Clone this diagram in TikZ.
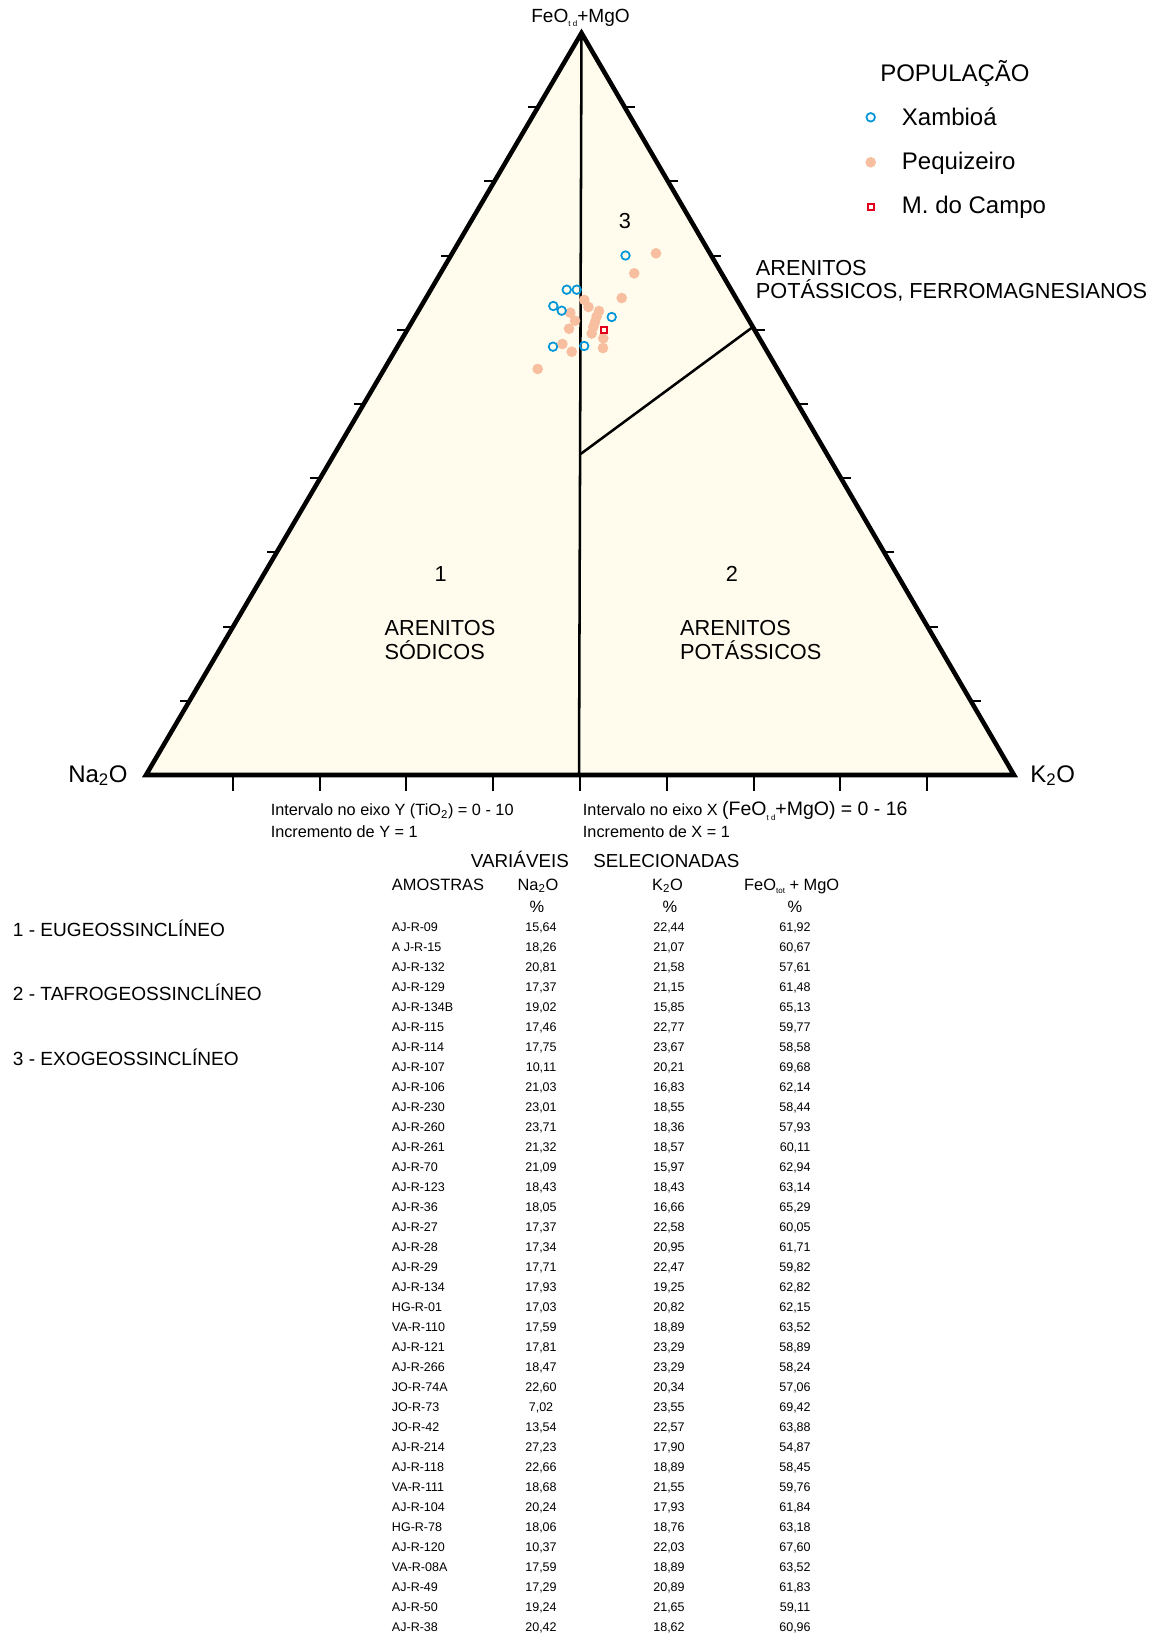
\documentclass[tikz,border=0pt]{standalone}
\usepackage{fontspec}
\setmainfont{Liberation Sans}
\usetikzlibrary{calc}
\definecolor{cream}{RGB}{255,252,237}
\definecolor{xblue}{RGB}{0,150,215}
\definecolor{peach}{RGB}{247,190,160}
\definecolor{mred}{RGB}{226,0,26}
\newcommand{\tsub}[1]{\raisebox{-0.45ex}{\fontsize{6}{6}\selectfont #1}}
\begin{document}
\begin{tikzpicture}[x=0.75pt,y=-0.75pt,
  edgeline/.style={line width=3.4pt, line join=miter},
  divline/.style={line width=1.9pt},
  tickline/.style={line width=1.5pt},
  xamb/.style={circle, draw=xblue, line width=1.3pt, minimum size=6.4pt, inner sep=0pt},
  pequi/.style={circle, fill=peach, minimum size=8pt, inner sep=0pt},
  mcampo/.style={rectangle, draw=mred, line width=1.5pt, minimum size=4.5pt, inner sep=0pt},
  legtxt/.style={font=\fontsize{18}{21}\selectfont, inner sep=0pt, anchor=base west},
  regtxt/.style={font=\fontsize{16.3}{19}\selectfont, inner sep=0pt},
  vertxt/.style={font=\fontsize{18}{21}\selectfont, inner sep=0pt, anchor=base west},
  axtxt/.style={font=\fontsize{12.2}{14}\selectfont, inner sep=0pt, anchor=base west},
  headtxt/.style={font=\fontsize{12.3}{14}\selectfont, inner sep=0pt},
  rowtxt/.style={font=\fontsize{9.4}{11}\selectfont, inner sep=0pt},
  listtxt/.style={font=\fontsize{14.3}{16}\selectfont, inner sep=0pt, anchor=base west}
]
\useasboundingbox[fill=white] (0,0) rectangle (1156,1638);

% triangle geometry
\coordinate (A) at (146,775);
\coordinate (B) at (1014,775);
\coordinate (C) at (581.5,33);
\coordinate (D) at (579,775);
\coordinate (E) at ($(C)!0.3962!(B)$);
\coordinate (F) at (580.6,454);

\fill[cream] (A) -- (B) -- (C) -- cycle;
\draw[divline] (C) -- (D);
\draw[divline] (E) -- (F);
\foreach \k in {1,...,9} {
  \draw[tickline] ($(C)!\k/10!(A)$) -- ++(-10,0);
  \draw[tickline] ($(C)!\k/10!(B)$) -- ++(10,0);
  \draw[tickline] ($(A)!\k/10!(B)$) -- ++(0,16);
}
\draw[edgeline] (A) -- (B) -- (C) -- cycle;

% data points
\foreach \px/\py [count=\i] in {656/253.3, 634.2/273.3, 621.7/298, 584.3/300, 588.5/307, 599/311, 596.7/316.5, 570.3/312.7, 575/320.7, 595/322, 593.3/327, 569/328.7, 591.7/333.5, 603.3/338.3, 562.4/344, 603/348, 571.7/351.7, 537.7/369}
  \node[pequi] (p\i) at (\px,\py) {};
\foreach \px/\py [count=\i] in {625.5/255.5, 566.7/289.7, 576.7/289.7, 553.3/306, 561.7/310.7, 611.7/317, 553/346.7, 584.2/346}
  \node[xamb] (x\i) at (\px,\py) {};
\node[mcampo] (c1) at (604.3,330) {};

% vertex labels
\node[font=\fontsize{14.3}{16}\selectfont, inner sep=0pt, anchor=base] (top) at (580.5,22) {FeO\tsub{t d}+MgO};
\node[vertxt] (na) at (68,782) {Na\textsubscript{2}O};
\node[vertxt] (ko) at (1030,782) {K\textsubscript{2}O};

% legend
\node[legtxt] (pop) at (880,81.7) {POPULAÇÃO};
\node[xamb] (lx) at (870.7,117.3) {};
\node[legtxt] (lxt) at (901.7,125.2) {Xambioá};
\node[pequi] (lp) at (870.7,162.3) {};
\node[legtxt] (lpt) at (901.7,169.3) {Pequizeiro};
\node[mcampo] (lm) at (870.7,207.3) {};
\node[legtxt] (lmt) at (901.7,213.3) {M. do Campo};

% region labels
\node[regtxt, anchor=base] (r3) at (625,228) {3};
\node[regtxt, anchor=base west] (r3a) at (755.7,275.7) {ARENITOS};
\node[regtxt, anchor=base west] (r3b) at (755.7,298.3) {POTÁSSICOS, FERROMAGNESIANOS};
\node[regtxt, anchor=base] (r1) at (440.7,581) {1};
\node[regtxt, anchor=base west] (r1a) at (384.3,635) {ARENITOS};
\node[regtxt, anchor=base west] (r1b) at (384.3,659) {SÓDICOS};
\node[regtxt, anchor=base] (r2) at (732,581) {2};
\node[regtxt, anchor=base west] (r2a) at (679.8,635) {ARENITOS};
\node[regtxt, anchor=base west] (r2b) at (679.8,659) {POTÁSSICOS};

% axis notes
\node[axtxt] (iy) at (270.5,815.6) {Intervalo no eixo Y (TiO\textsubscript{2}) = 0 - 10};
\node[axtxt] (incy) at (270.5,837.5) {Incremento de Y = 1};
\node[axtxt] (ix) at (582.7,815.6) {Intervalo no eixo X {\fontsize{14.6}{16}\selectfont (FeO\tsub{t d}+MgO) = 0 - 16}};
\node[axtxt] (incx) at (582.7,837.5) {Incremento de X = 1};

% table header
\node[font=\fontsize{14.1}{16}\selectfont, inner sep=0pt, anchor=base west] (var) at (470.7,867) {VARIÁVEIS};
\node[font=\fontsize{14.1}{16}\selectfont, inner sep=0pt, anchor=base west] (sel) at (593,867) {SELECIONADAS};
\node[headtxt, anchor=base west] (am) at (391.7,890) {AMOSTRAS};
\node[headtxt, anchor=base] (hna) at (538,890) {Na\textsubscript{2}O};
\node[headtxt, anchor=base] (hk) at (667.5,890) {K\textsubscript{2}O};
\node[headtxt, anchor=base] (hfe) at (791.7,890) {FeO\tsub{tot} + MgO};
\node[headtxt, anchor=base] (pna) at (537,912) {\%};
\node[headtxt, anchor=base] (pk) at (670,912) {\%};
\node[headtxt, anchor=base] (pfe) at (795,912) {\%};

% left list
\node[listtxt] (l1) at (12.7,936) {1 - EUGEOSSINCLÍNEO};
\node[listtxt] (l2) at (12.7,1000) {2 - TAFROGEOSSINCLÍNEO};
\node[listtxt] (l3) at (12.7,1065) {3 - EXOGEOSSINCLÍNEO};

% table rows
\foreach \s/\p/\q/\r [count=\i] in {
AJ-R-09/15{,}64/22{,}44/61{,}92,
A J-R-15/18{,}26/21{,}07/60{,}67,
AJ-R-132/20{,}81/21{,}58/57{,}61,
AJ-R-129/17{,}37/21{,}15/61{,}48,
AJ-R-134B/19{,}02/15{,}85/65{,}13,
AJ-R-115/17{,}46/22{,}77/59{,}77,
AJ-R-114/17{,}75/23{,}67/58{,}58,
AJ-R-107/10{,}11/20{,}21/69{,}68,
AJ-R-106/21{,}03/16{,}83/62{,}14,
AJ-R-230/23{,}01/18{,}55/58{,}44,
AJ-R-260/23{,}71/18{,}36/57{,}93,
AJ-R-261/21{,}32/18{,}57/60{,}11,
AJ-R-70/21{,}09/15{,}97/62{,}94,
AJ-R-123/18{,}43/18{,}43/63{,}14,
AJ-R-36/18{,}05/16{,}66/65{,}29,
AJ-R-27/17{,}37/22{,}58/60{,}05,
AJ-R-28/17{,}34/20{,}95/61{,}71,
AJ-R-29/17{,}71/22{,}47/59{,}82,
AJ-R-134/17{,}93/19{,}25/62{,}82,
HG-R-01/17{,}03/20{,}82/62{,}15,
VA-R-110/17{,}59/18{,}89/63{,}52,
AJ-R-121/17{,}81/23{,}29/58{,}89,
AJ-R-266/18{,}47/23{,}29/58{,}24,
JO-R-74A/22{,}60/20{,}34/57{,}06,
JO-R-73/7{,}02/23{,}55/69{,}42,
JO-R-42/13{,}54/22{,}57/63{,}88,
AJ-R-214/27{,}23/17{,}90/54{,}87,
AJ-R-118/22{,}66/18{,}89/58{,}45,
VA-R-111/18{,}68/21{,}55/59{,}76,
AJ-R-104/20{,}24/17{,}93/61{,}84,
HG-R-78/18{,}06/18{,}76/63{,}18,
AJ-R-120/10{,}37/22{,}03/67{,}60,
VA-R-08A/17{,}59/18{,}89/63{,}52,
AJ-R-49/17{,}29/20{,}89/61{,}83,
AJ-R-50/19{,}24/21{,}65/59{,}11,
AJ-R-38/20{,}42/18{,}62/60{,}96} {
  \pgfmathsetmacro{\yy}{931.7+20*(\i-1)}
  \node[rowtxt, anchor=base west] (s\i) at (391.7,\yy) {\s};
  \node[rowtxt, anchor=base] (na\i) at (541,\yy) {\p};
  \node[rowtxt, anchor=base] (k\i) at (669,\yy) {\q};
  \node[rowtxt, anchor=base] (fe\i) at (795,\yy) {\r};
}
\end{tikzpicture}
\end{document}
